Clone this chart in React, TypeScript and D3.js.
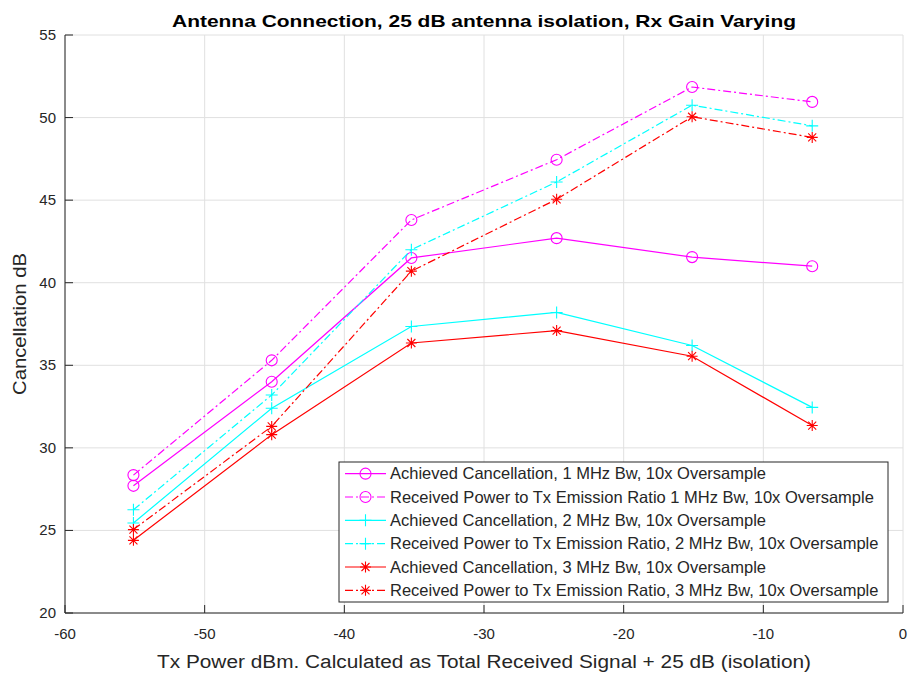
import React, { useEffect, useRef } from "react";
import * as d3 from "d3";

const xVals = [-55.1, -45.2, -35.2, -24.8, -15.1, -6.5];
const ach1 = [27.7, 34.0, 41.5, 42.7, 41.55, 41.0];
const rx1 = [28.35, 35.3, 43.8, 47.45, 51.85, 50.95];
const ach2 = [25.45, 32.4, 37.35, 38.2, 36.2, 32.45];
const rx2 = [26.25, 33.2, 42.0, 46.1, 50.75, 49.5];
const ach3 = [24.4, 30.8, 36.35, 37.1, 35.55, 31.35];
const rx3 = [25.05, 31.3, 40.7, 45.05, 50.05, 48.8];

const xTicks = [-60, -50, -40, -30, -20, -10, 0];
const yTicks = [20, 25, 30, 35, 40, 45, 50, 55];

const seriesNames = [
  "Achieved Cancellation, 1 MHz Bw, 10x Oversample",
  "Received Power to Tx Emission Ratio 1 MHz Bw, 10x Oversample",
  "Achieved Cancellation, 2 MHz Bw, 10x Oversample",
  "Received Power to Tx Emission Ratio, 2 MHz Bw, 10x Oversample",
  "Achieved Cancellation, 3 MHz Bw, 10x Oversample",
  "Received Power to Tx Emission Ratio, 3 MHz Bw, 10x Oversample",
];
const seriesData = [ach1, rx1, ach2, rx2, ach3, rx3];
const seriesColors = ["#ff00ff", "#ff00ff", "#00ffff", "#00ffff", "#ff0000", "#ff0000"];
const seriesDashed = [false, true, false, true, false, true];
const seriesMarker = ["o", "o", "+", "+", "*", "*"];

const titleText = "Antenna Connection, 25 dB antenna isolation, Rx Gain Varying";
const xLabelText = "Tx Power dBm. Calculated as Total Received Signal + 25 dB (isolation)";
const yLabelText = "Cancellation dB";

export default function App() {
  const ref = useRef<SVGSVGElement | null>(null);

  useEffect(() => {
    const svg = d3.select(ref.current);
    svg.selectAll("*").remove();
    const W = 908, H = 678;
    const L = 65, R = 903, T = 35, B = 613;
    const x = d3.scaleLinear().domain([-60, 0]).range([L, R]);
    const y = d3.scaleLinear().domain([20, 55]).range([B, T]);
    const axisColor = "#262626";
    const font = "'Liberation Sans', Arial, Helvetica, sans-serif";
    const dash = "8,3,2,3";

    svg.append("rect").attr("width", W).attr("height", H).attr("fill", "#ffffff");

    // grid
    const grid = svg.append("g").attr("stroke", "#e0e0e0").attr("stroke-width", 1);
    xTicks.forEach((t) => {
      grid.append("line").attr("x1", x(t)).attr("x2", x(t)).attr("y1", T).attr("y2", B);
    });
    yTicks.forEach((t) => {
      grid.append("line").attr("x1", L).attr("x2", R).attr("y1", y(t)).attr("y2", y(t));
    });

    const drawMarker = (g: any, cx: number, cy: number, type: string, color: string) => {
      if (type === "o") {
        g.append("circle").attr("cx", cx).attr("cy", cy).attr("r", 5.5)
          .attr("fill", "none").attr("stroke", color).attr("stroke-width", 1.1);
      } else if (type === "+") {
        const s = 6;
        g.append("path").attr("d", `M${cx - s},${cy}H${cx + s}M${cx},${cy - s}V${cy + s}`)
          .attr("stroke", color).attr("stroke-width", 1.1).attr("fill", "none");
      } else {
        const s = 5.5, d = 4;
        g.append("path")
          .attr("d", `M${cx - s},${cy}H${cx + s}M${cx},${cy - s}V${cy + s}M${cx - d},${cy - d}L${cx + d},${cy + d}M${cx - d},${cy + d}L${cx + d},${cy - d}`)
          .attr("stroke", color).attr("stroke-width", 1.1).attr("fill", "none");
      }
    };

    const line = d3.line<number>().x((_, i) => x(xVals[i])).y((d) => y(d));
    const plot = svg.append("g");
    seriesData.forEach((data, si) => {
      plot.append("path").attr("d", line(data) as string)
        .attr("fill", "none").attr("stroke", seriesColors[si]).attr("stroke-width", 1.2)
        .attr("stroke-dasharray", seriesDashed[si] ? dash : null);
      data.forEach((v, i) => drawMarker(plot, x(xVals[i]), y(v), seriesMarker[si], seriesColors[si]));
    });

    // axes
    const ax = svg.append("g").attr("stroke", axisColor).attr("stroke-width", 1);
    ax.append("line").attr("x1", L).attr("x2", R).attr("y1", B).attr("y2", B);
    ax.append("line").attr("x1", L).attr("x2", L).attr("y1", T).attr("y2", B);
    xTicks.forEach((t) => {
      ax.append("line").attr("x1", x(t)).attr("x2", x(t)).attr("y1", B).attr("y2", B - 8);
    });
    yTicks.forEach((t) => {
      ax.append("line").attr("x1", L).attr("x2", L + 8).attr("y1", y(t)).attr("y2", y(t));
    });

    const txt = svg.append("g").attr("font-family", font).attr("fill", axisColor);
    xTicks.forEach((t) => {
      txt.append("text").attr("x", x(t)).attr("y", B + 26).attr("text-anchor", "middle")
        .attr("font-size", 15).text(String(t));
    });
    yTicks.forEach((t) => {
      txt.append("text").attr("x", L - 9).attr("y", y(t) + 5).attr("text-anchor", "end")
        .attr("font-size", 15).text(String(t));
    });

    txt.append("text").attr("x", (L + R) / 2).attr("y", 668).attr("text-anchor", "middle")
      .attr("font-size", 18).attr("textLength", 654).attr("lengthAdjust", "spacingAndGlyphs")
      .text(xLabelText);
    txt.append("text").attr("transform", `translate(26,${(T + B) / 2}) rotate(-90)`)
      .attr("text-anchor", "middle").attr("font-size", 18)
      .attr("textLength", 142).attr("lengthAdjust", "spacingAndGlyphs").text(yLabelText);
    txt.append("text").attr("x", (L + R) / 2).attr("y", 27).attr("text-anchor", "middle")
      .attr("font-size", 17).attr("font-weight", "bold").attr("fill", "#000")
      .attr("textLength", 624).attr("lengthAdjust", "spacingAndGlyphs").text(titleText);

    // legend
    const lg = svg.append("g");
    const lx0 = 339, ly0 = 462, lx1 = 888, ly1 = 602;
    lg.append("rect").attr("x", lx0).attr("y", ly0).attr("width", lx1 - lx0).attr("height", ly1 - ly0)
      .attr("fill", "#fff").attr("stroke", axisColor).attr("stroke-width", 1);
    const rowH = (ly1 - ly0) / 6;
    seriesNames.forEach((name, i) => {
      const cy = ly0 + rowH * (i + 0.5);
      lg.append("line").attr("x1", 345).attr("x2", 386).attr("y1", cy).attr("y2", cy)
        .attr("stroke", seriesColors[i]).attr("stroke-width", 1.2)
        .attr("stroke-dasharray", seriesDashed[i] ? dash : null);
      drawMarker(lg, 365.5, cy, seriesMarker[i], seriesColors[i]);
      lg.append("text").attr("x", 390).attr("y", cy + 5.5).attr("font-family", font)
        .attr("font-size", 16.5).attr("fill", axisColor).text(name);
    });
  }, []);

  return (
    <svg ref={ref} width={908} height={678}
      style={{ position: "absolute", left: 0, top: 0, display: "block" }} />
  );
}
